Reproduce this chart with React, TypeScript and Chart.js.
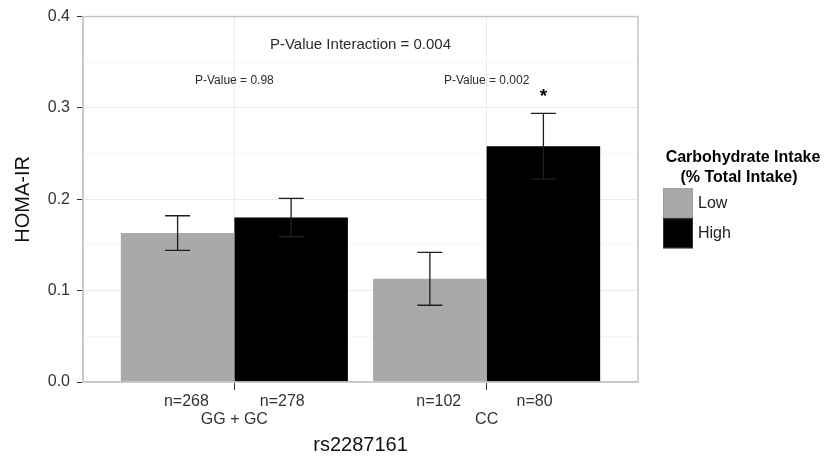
import React, { useEffect, useRef } from 'react';
import { Chart, registerables } from 'chart.js';

Chart.register(...registerables);

// ---- data ----
const categories = ['GG + GC', 'CC'];
const seriesNames = ['Low', 'High'];
const lowMeans = [0.163, 0.113];
const highMeans = [0.18, 0.258];
const lowErrLower = [0.144, 0.084];
const lowErrUpper = [0.182, 0.142];
const highErrLower = [0.159, 0.222];
const highErrUpper = [0.201, 0.294];
const lowN = [268, 102];
const highN = [278, 80];
const pValueLabels = ['P-Value = 0.98', 'P-Value = 0.002'];
const pValueY = [0.33, 0.33];
const interactionLabel = 'P-Value Interaction = 0.004';
const interactionY = 0.369;
const starOnHigh = [false, true];
const starY = 0.315;
const yTickValues = [0, 0.1, 0.2, 0.3, 0.4];
const legendTitle = ['Carbohydrate Intake', '(% Total Intake)'];
const xTitle = 'rs2287161';
const yTitle = 'HOMA-IR';

const FONT = "'Liberation Sans', Arial, Helvetica, sans-serif";
const COLORS = ['#a9a9a9', '#000000'];

const isMajor = (v: number) => Math.round(v * 100) % 10 === 0;

const annotPlugin = {
  id: 'annot',
  afterDatasetsDraw(chart: any) {
    const ctx = chart.ctx as CanvasRenderingContext2D;
    const xs = chart.scales.x;
    const ys = chart.scales.y;
    const ca = chart.chartArea;
    const errs = [
      [lowErrLower, lowErrUpper],
      [highErrLower, highErrUpper],
    ];
    ctx.save();
    // error bars
    ctx.strokeStyle = '#1e1e1e';
    ctx.lineWidth = 1.3;
    chart.data.datasets.forEach((_ds: any, di: number) => {
      const meta = chart.getDatasetMeta(di);
      meta.data.forEach((bar: any, i: number) => {
        const x = bar.x;
        const y1 = ys.getPixelForValue(errs[di][0][i]);
        const y2 = ys.getPixelForValue(errs[di][1][i]);
        ctx.beginPath();
        ctx.moveTo(x, y1);
        ctx.lineTo(x, y2);
        ctx.moveTo(x - 12.5, y1);
        ctx.lineTo(x + 12.5, y1);
        ctx.moveTo(x - 12.5, y2);
        ctx.lineTo(x + 12.5, y2);
        ctx.stroke();
      });
    });
    // panel border
    ctx.strokeStyle = '#c6c6c6';
    ctx.lineWidth = 1.5;
    ctx.strokeRect(ca.left, ca.top, ca.right - ca.left, ca.bottom - ca.top);

    // annotations
    ctx.fillStyle = '#2b2b2b';
    ctx.textAlign = 'center';
    ctx.textBaseline = 'middle';
    ctx.font = `15px ${FONT}`;
    ctx.fillText(interactionLabel, xs.getPixelForValue((xs.min + xs.max) / 2), ys.getPixelForValue(interactionY));
    ctx.font = `12px ${FONT}`;
    pValueLabels.forEach((t, i) => {
      ctx.fillText(t, xs.getPixelForValue(i + 1), ys.getPixelForValue(pValueY[i]));
    });
    // star
    const highMeta = chart.getDatasetMeta(1);
    ctx.font = `bold 19px ${FONT}`;
    ctx.fillStyle = '#000';
    ctx.textBaseline = 'alphabetic';
    starOnHigh.forEach((s, i) => {
      if (!s) return;
      const bx = highMeta.data[i].x;
      ctx.fillText('*', bx, ys.getPixelForValue(starY) + 8);
    });
    ctx.restore();
  },
  afterDraw(chart: any) {
    const ctx = chart.ctx as CanvasRenderingContext2D;
    const xs = chart.scales.x;
    const ca = chart.chartArea;
    ctx.save();
    // n labels
    ctx.fillStyle = '#333333';
    ctx.font = `16px ${FONT}`;
    ctx.textAlign = 'center';
    ctx.textBaseline = 'middle';
    categories.forEach((_c, i) => {
      ctx.fillText(`n=${lowN[i]}`, xs.getPixelForValue(i + 1 - 0.19), xs.top + 20);
      ctx.fillText(`n=${highN[i]}`, xs.getPixelForValue(i + 1 + 0.19), xs.top + 20);
    });
    // legend
    const lx = ca.right + 25;
    const cy = (ca.top + ca.bottom) / 2;
    ctx.fillStyle = '#000';
    ctx.font = `bold 16px ${FONT}`;
    ctx.fillText(legendTitle[0], lx + 80, cy - 42);
    ctx.fillText(legendTitle[1], lx + 76, cy - 22);
    seriesNames.forEach((name, i) => {
      const top = cy - 11 + i * 30;
      ctx.fillStyle = COLORS[i];
      ctx.fillRect(lx, top, 30, 30);
      ctx.strokeStyle = i === 0 ? '#9a9a9a' : '#333';
      ctx.lineWidth = 1;
      ctx.strokeRect(lx + 0.5, top + 0.5, 29, 29);
      ctx.fillStyle = '#222';
      ctx.font = `16px ${FONT}`;
      ctx.textAlign = 'left';
      ctx.fillText(name, lx + 35, top + 15);
      ctx.textAlign = 'center';
    });
    ctx.restore();
  },
};

export default function App() {
  const ref = useRef<HTMLCanvasElement | null>(null);
  useEffect(() => {
    document.body.style.margin = '0';
    if (!ref.current) return;
    const chart = new Chart(ref.current, {
      type: 'bar',
      data: {
        datasets: [
          {
            label: seriesNames[0],
            data: lowMeans.map((v, i) => ({ x: i + 1, y: v })),
            backgroundColor: COLORS[0],
            categoryPercentage: 0.9,
            barPercentage: 1,
          },
          {
            label: seriesNames[1],
            data: highMeans.map((v, i) => ({ x: i + 1, y: v })),
            backgroundColor: COLORS[1],
            categoryPercentage: 0.9,
            barPercentage: 1,
          },
        ] as any,
      },
      options: {
        responsive: false,
        animation: false,
        events: [],
        layout: { padding: { left: 0, top: 16, right: 190, bottom: 0 } },
        plugins: {
          legend: { display: false },
          tooltip: { enabled: false },
        },
        scales: {
          x: {
            type: 'linear',
            min: 0.4,
            max: 2.6,
            offset: false,
            afterBuildTicks: (scale: any) => {
              scale.ticks = categories.map((_c, i) => ({ value: i + 1 }));
            },
            afterFit: (scale: any) => {
              scale.height = 78;
            },
            grid: {
              offset: false,
              color: '#ececec',
              tickColor: '#333',
              tickLength: 8,
              lineWidth: 1,
            },
            border: { color: '#c6c6c6', width: 1.5 },
            ticks: {
              autoSkip: false,
              maxRotation: 0,
              padding: 20,
              color: '#333',
              font: { family: FONT, size: 16 },
              callback: (v: any) => categories[Math.round(Number(v)) - 1] ?? '',
            },
            title: {
              display: true,
              text: xTitle,
              color: '#111',
              font: { family: FONT, size: 20 },
              padding: { top: 0, bottom: 3 },
            },
          },
          y: {
            min: 0,
            max: 0.4,
            afterBuildTicks: (scale: any) => {
              const t: any[] = [];
              for (let k = 0; k <= 8; k++) t.push({ value: k * 0.05 });
              scale.ticks = t;
            },
            afterFit: (scale: any) => {
              scale.width = 83;
            },
            grid: {
              color: (c: any) => (c.tick && isMajor(c.tick.value) ? '#ebebeb' : '#f6f6f6'),
              tickColor: (c: any) => (c.tick && isMajor(c.tick.value) ? '#333' : 'rgba(0,0,0,0)'),
              tickLength: 6,
            },
            border: { color: '#c6c6c6', width: 1.5 },
            ticks: {
              autoSkip: false,
              padding: 7,
              color: '#333',
              font: { family: FONT, size: 16 },
              callback: (v: any) => {
                const n = Number(v);
                const hit = yTickValues.find((t) => Math.abs(t - n) < 1e-6);
                return hit !== undefined ? hit.toFixed(1) : '';
              },
            },
            title: {
              display: true,
              text: yTitle,
              color: '#111',
              font: { family: FONT, size: 20 },
              padding: { top: 11, bottom: 0 },
            },
          },
        },
      } as any,
      plugins: [annotPlugin],
    });
    return () => chart.destroy();
  }, []);
  return (
    <div style={{ width: 828, height: 460, background: '#fff' }}>
      <canvas ref={ref} width={828} height={460} style={{ display: 'block', width: 828, height: 460 }} />
    </div>
  );
}
